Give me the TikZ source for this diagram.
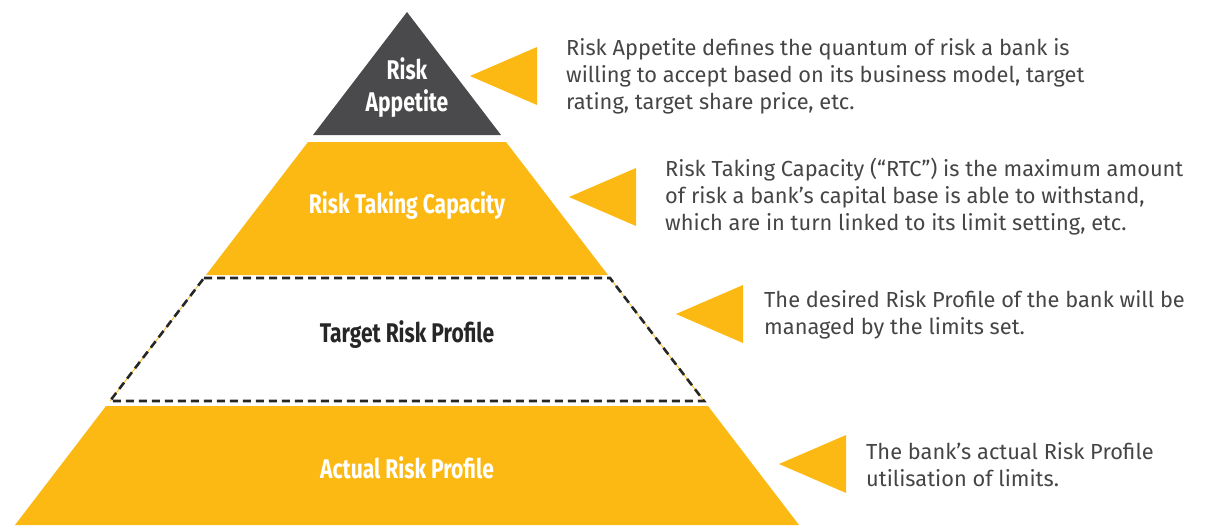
\documentclass[tikz,border=0pt]{standalone}
\usepackage{fontspec}
\setmainfont{Fira Sans}
\newfontfamily\labelfont[FakeStretch=0.78]{Fira Sans}
\definecolor{gold}{HTML}{FDB913}
\definecolor{slate}{HTML}{4A4A4C}
\definecolor{ink}{HTML}{454545}
\begin{document}
\begin{tikzpicture}[
    x=1pt,y=-1pt,
    band/.style={fill=gold},
    tip/.style={fill=gold},
    lbl/.style={
        font=\labelfont\bfseries\fontsize{27}{32}\selectfont,
        text=white,
        align=center
    },
    desc/.style={
        font=\fontsize{21.8}{27}\selectfont,
        text=ink,
        align=left,
        anchor=west,
        inner sep=0pt
    },
    frame/.style={draw=black!85, dash pattern=on 8pt off 5pt, line width=2.6pt}
]
    \useasboundingbox (0,0) rectangle (1221,525);

    % pyramid
    \fill[slate] (407,12) -- (313,135) -- (501,135) -- cycle;
    \fill[band] (308,142) -- (506,142) -- (608,275) -- (206,275) -- cycle;
    \draw[gold, line width=0.8pt] (204,278) -- (110,401) (610,278) -- (704,401);
    \draw[frame] (204,278) -- (610,278) -- (704,401) -- (110,401) -- cycle;
    \fill[band] (106,406) -- (708,406) -- (799,525) -- (15,525) -- cycle;

    % labels
    \node[lbl] (appetite) at (407,88) {Risk\\Appetite};
    \node[lbl] (capacity) at (407,206) {Risk Taking Capacity};
    \node[lbl, text=black!85] (target) at (407,335) {Target Risk Profile};
    \node[lbl] (actual) at (407,468) {Actual Risk Profile};

    % pointers
    \foreach \x/\y in {470/76, 569/197, 676/314, 779/464}
        \fill[tip] (\x,\y) -- ++(67,-29) -- ++(0,58) -- cycle;

    % descriptions
    \node[desc] (descA) at (566,76) {Risk Appetite defines the quantum of risk a bank is\\
        willing to accept based on its business model, target\\
        rating, target share price, etc.};
    \node[desc] (descB) at (665,197) {Risk Taking Capacity (“RTC”) is the maximum amount\\
        of risk a bank’s capital base is able to withstand,\\
        which are in turn linked to its limit setting, etc.};
    \node[desc] (descC) at (764,315) {The desired Risk Profile of the bank will be\\
        managed by the limits set.};
    \node[desc] (descD) at (866,465) {The bank’s actual Risk Profile\\
        utilisation of limits.};

\end{tikzpicture}
\end{document}
